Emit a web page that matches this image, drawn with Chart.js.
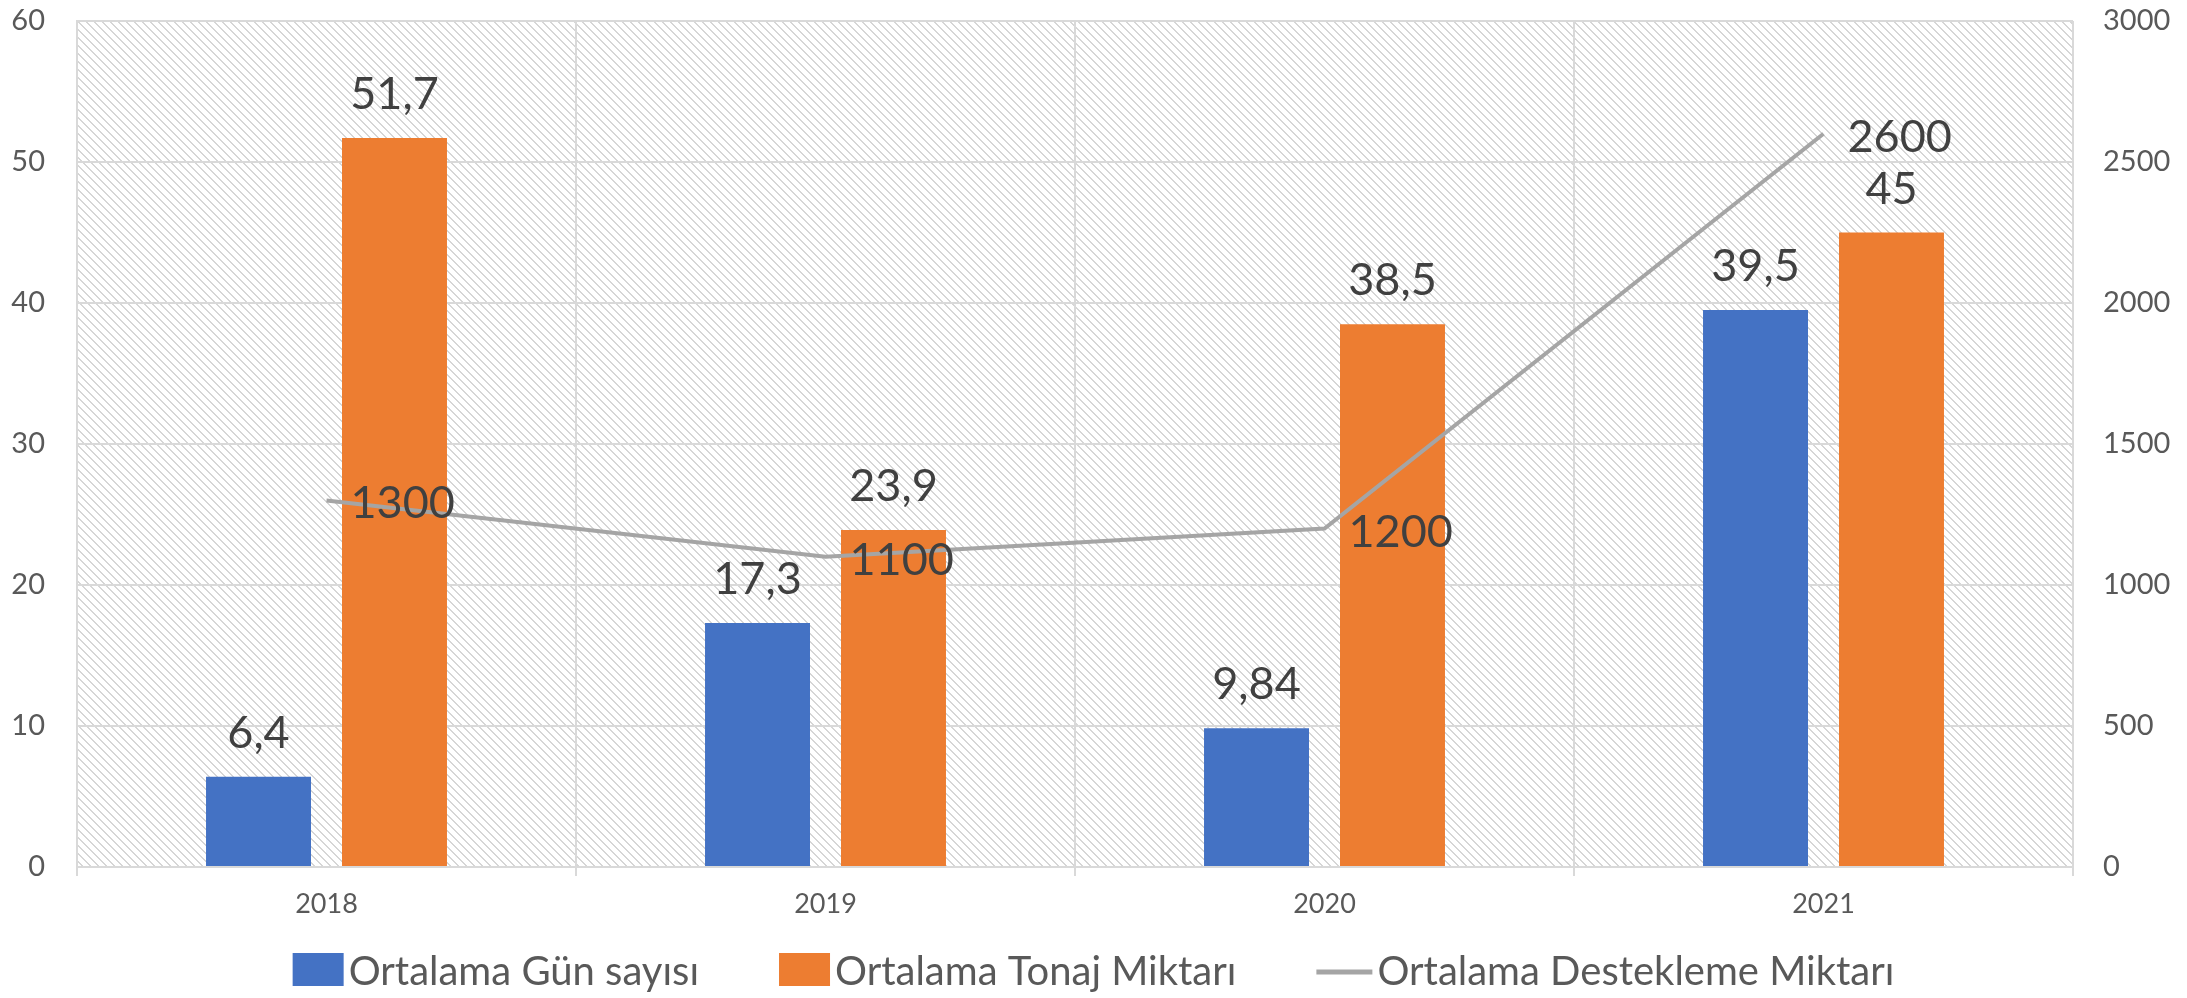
<!DOCTYPE html>
<html><head><meta charset="utf-8">
<script src="https://cdn.jsdelivr.net/npm/chart.js@4.4.1/dist/chart.umd.min.js"></script>
<style>html,body{margin:0;padding:0;background:#fff;} canvas{display:block;}</style>
</head><body>
<canvas id="c" width="2187" height="998"></canvas>
<script>
// ---- data ----
const categories = ['2018', '2019', '2020', '2021'];
const gunSayisi = [6.4, 17.3, 9.84, 39.5];
const tonajMiktari = [51.7, 23.9, 38.5, 45];
const desteklemeMiktari = [1300, 1100, 1200, 2600];
const seriesNames = ['Ortalama Gün sayısı', 'Ortalama Tonaj Miktarı', 'Ortalama Destekleme Miktarı'];
const leftAxisRange = [0, 60, 10];
const rightAxisRange = [0, 3000, 500];

const FONT = 'Lato';
const GRID = '#d9d9d9';
const fmt = v => String(v).replace('.', ',');

function makeHatch() {
  const t = document.createElement('canvas');
  t.width = 8; t.height = 8;
  const g = t.getContext('2d');
  g.fillStyle = '#ffffff'; g.fillRect(0, 0, 8, 8);
  g.fillStyle = '#d6d6d6';
  for (let i = 0; i < 8; i++) {
    g.fillRect(i, i, 1, 1);
    g.fillRect((i + 1) % 8, i, 1, 1);
  }
  return t;
}

const bgPlugin = {
  id: 'bg',
  beforeDraw(chart) {
    const {ctx, chartArea: a} = chart;
    ctx.save();
    ctx.fillStyle = '#fff';
    ctx.fillRect(0, 0, chart.width, chart.height);
    ctx.fillStyle = ctx.createPattern(makeHatch(), 'repeat');
    ctx.fillRect(a.left, a.top, a.right - a.left, a.bottom - a.top);
    ctx.restore();
  }
};

const labelPlugin = {
  id: 'vlabels',
  afterDatasetsDraw(chart) {
    const ctx = chart.ctx;
    ctx.save();
    ctx.font = '45px ' + FONT;
    ctx.fillStyle = '#404040';
    ctx.textBaseline = 'alphabetic';
    chart.data.datasets.forEach((ds, i) => {
      const meta = chart.getDatasetMeta(i);
      meta.data.forEach((el, j) => {
        const txt = fmt(ds.data[j]);
        if (ds.type === 'line') {
          ctx.textAlign = 'left';
          ctx.fillText(txt, el.x + 24, el.y + 18);
        } else {
          ctx.textAlign = 'center';
          ctx.fillText(txt, el.x, el.y - 29);
        }
      });
    });
    ctx.restore();
  }
};

// legend drawn from the chart's datasets (swatch + label), centred under the chart
const legendPlugin = {
  id: 'bottomLegend',
  afterDraw(chart) {
    const ctx = chart.ctx;
    const cy = 970, gapSwatch = 5, gapItem = 80;
    ctx.save();
    ctx.font = '40px ' + FONT;
    ctx.textBaseline = 'middle';
    ctx.textAlign = 'left';
    const items = chart.data.datasets.map(ds => {
      const sw = ds.type === 'line' ? 56 : 51;
      return { ds, sw, tw: ctx.measureText(ds.label).width };
    });
    const total = items.reduce((s, it) => s + it.sw + gapSwatch + it.tw, 0) + gapItem * (items.length - 1);
    let x = (chart.width - total) / 2;
    items.forEach(it => {
      if (it.ds.type === 'line') {
        ctx.strokeStyle = it.ds.borderColor;
        ctx.lineWidth = 5;
        ctx.beginPath();
        ctx.moveTo(x, cy + 2); ctx.lineTo(x + it.sw, cy + 2);
        ctx.stroke();
      } else {
        ctx.fillStyle = it.ds.backgroundColor;
        ctx.fillRect(x, cy - 17, it.sw, 33);
      }
      x += it.sw + gapSwatch;
      ctx.fillStyle = '#595959';
      ctx.fillText(it.ds.label, x, cy + 2);
      x += it.tw + gapItem;
    });
    ctx.restore();
  }
};

new Chart(document.getElementById('c'), {
  data: {
    labels: categories,
    datasets: [
      { type: 'bar', label: seriesNames[0], data: gunSayisi, backgroundColor: '#4472c4', borderWidth: 0, yAxisID: 'y', order: 1,
        categoryPercentage: 0.545, barPercentage: 0.772 },
      { type: 'bar', label: seriesNames[1], data: tonajMiktari, backgroundColor: '#ed7d31', borderWidth: 0, yAxisID: 'y', order: 1,
        categoryPercentage: 0.545, barPercentage: 0.772 },
      { type: 'line', label: seriesNames[2], data: desteklemeMiktari, borderColor: '#a5a5a5', backgroundColor: '#a5a5a5',
        borderWidth: 4, pointRadius: 0, tension: 0, yAxisID: 'y2', order: 0 }
    ]
  },
  options: {
    responsive: false,
    devicePixelRatio: 1,
    animation: false,
    layout: { padding: { top: 21, left: 0, right: 0, bottom: 0 } },
    plugins: {
      tooltip: { enabled: false },
      legend: { display: false }
    },
    scales: {
      x: {
        grid: { color: GRID, lineWidth: 2, tickLength: 9, offset: true },
        border: { color: GRID, width: 2 },
        ticks: { font: { family: FONT, size: 27 }, color: '#595959', padding: 12 },
        afterFit(s) { s.height = 131; }
      },
      y: {
        position: 'left',
        min: leftAxisRange[0], max: leftAxisRange[1],
        ticks: { stepSize: leftAxisRange[2], font: { family: FONT, size: 29 }, color: '#595959', padding: 32,
                 callback: v => String(v) },
        grid: { color: GRID, lineWidth: 2, drawTicks: false },
        border: { color: GRID, width: 2 },
        afterFit(s) { s.width = 77; s.paddingTop = 0; s.paddingBottom = 0; }
      },
      y2: {
        position: 'right',
        min: rightAxisRange[0], max: rightAxisRange[1],
        ticks: { stepSize: rightAxisRange[2], font: { family: FONT, size: 29 }, color: '#595959', padding: 30,
                 callback: v => String(v) },
        grid: { display: false, drawTicks: false },
        border: { display: false },
        afterFit(s) { s.width = 114; s.paddingTop = 0; s.paddingBottom = 0; }
      }
    }
  },
  plugins: [bgPlugin, labelPlugin, legendPlugin]
});
</script>
</body></html>
